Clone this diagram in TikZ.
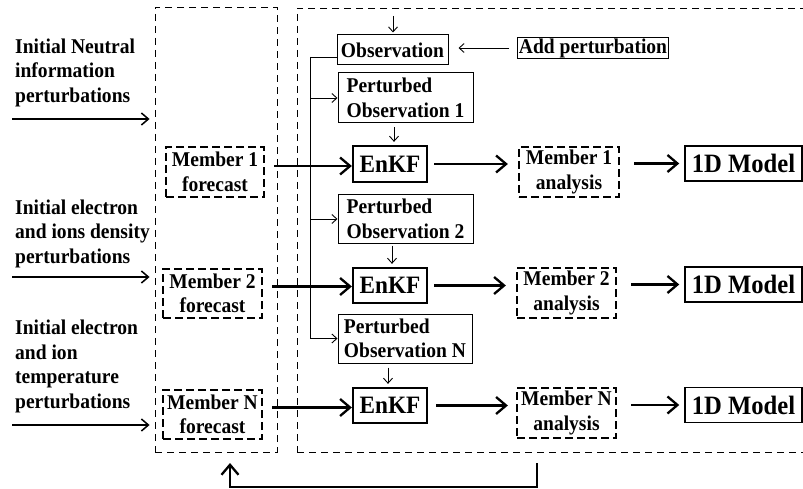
\documentclass[tikz,border=0pt]{standalone}
\usepackage{fontspec}
\setmainfont[FakeStretch=0.93]{Liberation Serif}
\usetikzlibrary{arrows.meta,calc}
\begin{document}
\begin{tikzpicture}[x=1pt,y=-1pt,
  txt/.style={font=\fontsize{21}{24.5}\selectfont\bfseries},
  big/.style={font=\fontsize{25}{28}\selectfont\bfseries},
  bigger/.style={font=\fontsize{26.5}{28}\selectfont\bfseries},
  outerbox/.style={draw,line width=0.9pt,dash pattern=on 7pt off 5pt},
  memberbox/.style={txt,draw,line width=2.3pt,dash pattern=on 8pt off 4pt,align=center,inner sep=1pt},
  solidbox/.style={draw,line width=1pt,inner sep=1pt},
  thickbox/.style={draw,line width=2.3pt,inner sep=1pt},
  thinarrow/.style={line width=0.9pt,-{Straight Barb[length=5pt,width=9pt]}},
  medarrow/.style={line width=1.5pt,-{Straight Barb[length=7pt,width=12pt]}},
  bigarrow/.style={line width=2.3pt,-{Straight Barb[length=10pt,width=17pt]}},
  thinline/.style={line width=0.9pt}]
\useasboundingbox (0,0) rectangle (803,489);
\clip (0,0) rectangle (803,489);

% outer dashed boxes
\node[outerbox,minimum width=122pt,minimum height=445pt,inner sep=0pt] (leftbox) at (216,229.5) {};
\node[outerbox,minimum width=513pt,minimum height=444pt,inner sep=0pt] (rightbox) at (553.5,230) {};

% left labels
\node[txt,anchor=west,align=left,inner sep=0pt] (lab1) at (15,72.5) {Initial Neutral\\information\\perturbations};
\node[txt,anchor=west,align=left,inner sep=0pt] (lab2) at (15,233.5) {Initial electron\\and ions density\\perturbations};
\node[txt,anchor=west,align=left,inner sep=0pt] (lab3) at (15,366.5) {Initial electron\\and ion\\temperature\\perturbations};

\coordinate (in1) at (12,119);
\coordinate (in2) at (12,277);
\coordinate (in3) at (12,425);
\draw[medarrow,shorten >=5pt] (in1) -- (in1 -| leftbox.west);
\draw[medarrow,shorten >=5pt] (in2) -- (in2 -| leftbox.west);
\draw[medarrow,shorten >=5pt] (in3) -- (in3 -| leftbox.west);

% forecast boxes
\node[memberbox,minimum width=98pt,minimum height=50pt] (f1) at (215,172) {Member 1\\forecast};
\node[memberbox,minimum width=99pt,minimum height=49pt] (f2) at (212.5,293.5) {Member 2\\forecast};
\node[memberbox,minimum width=99pt,minimum height=49pt] (fn) at (212.5,414.5) {Member N\\forecast};

% observation part
\node[txt,solidbox,minimum width=111pt,minimum height=30pt] (obs) at (392.5,50) {Observation};
\node[txt,solidbox,minimum width=150pt,minimum height=20pt] (addp) at (593,48) {Add perturbation};
\node[txt,solidbox,minimum width=135pt,minimum height=50pt,align=left] (po1) at (405.5,98) {Perturbed\\Observation 1};
\node[txt,solidbox,minimum width=135pt,minimum height=48pt,align=left] (po2) at (405.5,219) {Perturbed\\Observation 2};
\node[txt,solidbox,minimum width=134pt,minimum height=49pt,align=left] (pon) at (405,338.5) {Perturbed\\Observation N};

\coordinate (obsin) at (393,16);
\draw[thinarrow,shorten >=2pt] (obsin) -- (obsin |- obs.north);
\draw[thinarrow,shorten <=8pt,shorten >=10pt] (addp.west) -- (obs.east |- addp.west);

\coordinate (bus) at (310,57);
\draw[thinline] ([yshift=-7pt]obs.west) -- (bus);
\draw[thinarrow] (bus) |- (pon.west);
\draw[thinarrow] (bus |- po1.west) -- (po1.west);
\draw[thinarrow] (bus |- po2.west) -- (po2.west);

% EnKF
\node[big,thickbox,minimum width=74pt,minimum height=36pt] (e1) at (390,164) {EnKF};
\node[big,thickbox,minimum width=74pt,minimum height=35pt] (e2) at (390,285.5) {EnKF};
\node[big,thickbox,minimum width=74pt,minimum height=35pt] (en) at (390,405.5) {EnKF};

\draw[thinarrow,shorten <=4pt,shorten >=3pt] ([xshift=4pt]e1.north |- po1.south) -- ([xshift=4pt]e1.north);
\draw[thinarrow,shorten <=2pt,shorten >=3pt] ([xshift=2pt]e2.north |- po2.south) -- ([xshift=2pt]e2.north);
\draw[thinarrow,shorten <=4pt,shorten >=3pt] ([xshift=-2pt]en.north |- pon.south) -- ([xshift=-2pt]en.north);

% forecast -> EnKF
\draw[bigarrow,shorten <=9pt] ([yshift=-2pt]f1.east |- e1.west) -- ([yshift=-2pt]e1.west);
\draw[bigarrow,shorten <=9pt] ([yshift=-1pt]f2.east |- e2.west) -- ([yshift=-1pt]e2.west);
\draw[bigarrow,shorten <=9pt] ([yshift=-2pt]fn.east |- en.west) -- ([yshift=-2pt]en.west);

% analysis
\node[memberbox,minimum width=100pt,minimum height=50pt] (a1) at (569,172) {Member 1\\analysis};
\node[memberbox,minimum width=99pt,minimum height=50pt] (a2) at (566.5,293) {Member 2\\analysis};
\node[memberbox,minimum width=99pt,minimum height=50pt] (an) at (566.5,413) {Member N\\analysis};

\draw[bigarrow,shorten <=6pt,shorten >=10pt] (e1.east) -- (e1.east -| a1.west);
\draw[bigarrow,shorten <=6pt,shorten >=10pt] (e2.east) -- (e2.east -| a2.west);
\draw[bigarrow,shorten <=8pt,shorten >=8pt] (en.east) -- (en.east -| an.west);

% 1D models
\node[bigger,solidbox,line width=1.5pt,minimum width=117pt,minimum height=35pt] (m1) at (743.5,163.5) {1D Model};
\node[bigger,solidbox,line width=1.5pt,minimum width=117pt,minimum height=35pt] (m2) at (743.5,284.5) {1D Model};
\node[bigger,solidbox,line width=1.5pt,minimum width=117pt,minimum height=35pt] (mn) at (743.5,405) {1D Model};

\draw[bigarrow,shorten <=14pt,shorten >=5pt] (a1.east |- m1.west) -- (m1.west);
\draw[bigarrow,shorten <=14pt,shorten >=5pt] (a2.east |- m2.west) -- (m2.west);
\draw[bigarrow,shorten <=14pt,shorten >=5pt] (an.east |- mn.west) -- (mn.west);

% feedback
\coordinate (fbs) at (537,463);
\coordinate (fbe) at (230,463);
\draw[bigarrow] (fbs) -- ++(0,24) -| (fbe);
\end{tikzpicture}
\end{document}
